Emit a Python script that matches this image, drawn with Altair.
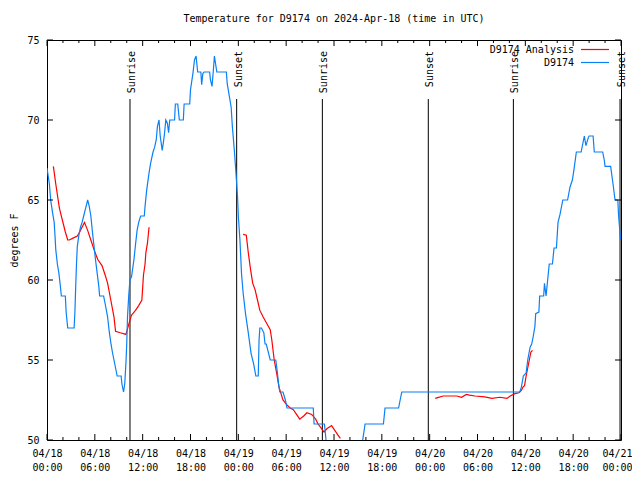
import altair as alt
import pandas as pd

# ---- data (hours since 2024-04-18 00:00 UTC, degrees F) ----
obs_hours = [0.0, 0.3, 0.46, 0.7, 0.9, 1.0, 1.1, 1.3, 1.5, 1.7, 1.8, 2.3, 2.4, 2.6, 3.4, 3.5, 3.6, 3.7, 3.8, 4.0,
             4.2, 4.4, 4.6, 4.8, 5.1, 5.3, 5.5, 5.7, 5.9, 6.1, 6.3, 6.5, 6.6, 7.1, 7.3, 7.6, 7.8, 8.0, 8.2, 8.4,
             8.6, 8.8, 9.3, 9.4, 9.6, 9.75, 9.9, 10.0, 10.1, 10.25, 10.4, 10.6, 10.9, 11.1, 11.3, 11.5, 11.75, 12.2, 12.3, 12.5,
             12.8, 13.0, 13.3, 13.5, 13.7, 13.85, 14.05, 14.2, 14.45, 14.6, 14.75, 14.9, 15.1, 15.25, 15.4, 16.0, 16.1, 16.4, 16.6, 17.1,
             17.2, 17.9, 18.0, 18.15, 18.3, 18.5, 18.7, 18.8, 18.9, 19.3, 19.4, 19.55, 19.7, 20.4, 20.5, 20.7, 20.85, 21.0, 21.15, 21.3,
             22.5, 22.6, 22.8, 23.1, 23.25, 23.5, 23.7, 23.9, 24.0, 24.2, 24.4, 24.6, 24.9, 25.25, 25.6, 25.9, 26.2, 26.5, 26.6, 26.7,
             26.9, 27.2, 27.35, 27.5, 27.7, 28.0, 28.7, 28.9, 29.05, 29.2, 29.6, 29.9, 30.1, 33.4, 33.5, 34.8, 35.0, 35.1, 39.5, 39.6,
             39.9, 42.2, 42.4, 44.1, 44.3, 44.5, 59.3, 59.5, 59.75, 60.1, 60.3, 60.6, 60.8, 61.0, 61.2, 61.3, 61.7, 61.8, 62.3, 62.4,
             62.6, 62.8, 63.0, 63.4, 63.6, 63.9, 64.1, 64.35, 64.7, 65.3, 65.6, 65.9, 66.1, 66.4, 67.0, 67.3, 67.4, 67.6, 67.9, 68.0,
             68.5, 68.65, 69.7, 69.9, 70.0, 70.7, 71.0, 71.25, 71.6, 71.7, 71.85, 71.95]
obs_temps = [67.0, 66.0, 65.0, 64.2, 63.6, 62.8, 61.9, 61.0, 60.4, 59.5, 59.0, 59.0, 58.0, 57.0, 57.0, 58.0, 59.6, 61.0, 62.1, 62.8,
             63.3, 63.6, 64.0, 64.4, 65.0, 64.6, 64.0, 63.0, 62.1, 61.2, 60.4, 59.6, 59.0, 59.0, 58.5, 57.7, 56.8, 56.1, 55.5, 55.0,
             54.5, 54.0, 54.0, 53.5, 53.0, 53.5, 54.8, 56.0, 57.7, 59.0, 60.0, 60.2, 61.25, 62.2, 63.1, 63.6, 64.0, 64.0, 64.6, 65.6,
             66.7, 67.3, 68.0, 68.3, 68.75, 69.6, 70.0, 69.0, 68.1, 68.6, 69.2, 70.0, 69.8, 69.2, 70.0, 70.0, 71.0, 71.0, 70.0, 70.0,
             71.0, 71.0, 71.9, 72.4, 72.9, 73.75, 74.0, 73.5, 73.0, 73.0, 72.2, 72.9, 73.0, 73.0, 72.5, 72.1, 73.0, 74.0, 73.5, 73.0,
             73.0, 72.3, 71.7, 70.8, 69.6, 68.1, 66.7, 65.2, 64.0, 62.5, 60.4, 59.2, 57.9, 56.7, 55.4, 54.8, 54.0, 54.0, 56.25, 57.0,
             57.0, 56.7, 56.0, 56.0, 55.6, 55.0, 55.0, 54.2, 53.5, 53.0, 53.0, 52.5, 52.0, 52.0, 51.0, 51.0, 50.0, 49.0, 49.0, 50.0,
             51.0, 51.0, 52.0, 52.0, 52.5, 53.0, 53.0, 53.3, 54.0, 54.2, 55.0, 55.8, 56.0, 56.5, 57.1, 57.9, 58.0, 59.0, 59.0, 59.8,
             59.0, 60.0, 61.0, 61.0, 62.0, 62.0, 63.6, 64.1, 65.0, 65.0, 65.8, 66.25, 66.9, 68.0, 68.0, 68.75, 69.0, 68.4, 68.9, 69.0,
             69.0, 68.0, 68.0, 67.5, 67.1, 67.1, 66.0, 65.0, 65.0, 64.0, 63.1, 62.5]

ana1_hours = [0.8, 1.1, 1.4, 1.55, 1.7, 2.05, 2.3, 2.6, 2.8, 3.2, 3.8, 4.1, 4.3, 4.7, 5.1, 5.5, 5.9, 6.2, 6.4, 6.9,
              7.3, 7.6, 8.0, 8.4, 8.6, 9.2, 9.9, 10.3, 10.6, 11.1, 11.5, 11.9, 12.1, 12.3, 12.4, 12.6, 12.8]
ana1_temps = [67.1, 66.0, 65.0, 64.5, 64.2, 63.5, 63.0, 62.5, 62.5, 62.6, 62.75, 63.0, 63.2, 63.6, 63.1, 62.5, 61.9, 61.5, 61.25, 60.9,
              60.3, 59.8, 58.75, 57.7, 56.8, 56.7, 56.6, 57.3, 57.8, 58.1, 58.4, 58.75, 60.3, 61.0, 61.7, 62.3, 63.3]
ana2_hours = [24.6, 25.0, 25.25, 25.55, 25.8, 26.1, 26.4, 26.7, 27.1, 27.55, 28.0, 28.2, 28.5, 28.8, 29.1, 29.6, 30.1, 30.5, 30.9, 31.3,
              31.7, 32.2, 32.6, 33.2, 33.7, 34.0, 34.3, 34.6, 34.75, 35.1, 35.7, 36.1, 36.5, 36.8]
ana2_temps = [62.85, 62.8, 61.7, 60.6, 59.8, 59.4, 58.75, 58.1, 57.7, 57.3, 56.9, 56.25, 55.0, 54.2, 53.3, 52.5, 52.2, 52.0, 51.9, 51.6,
              51.3, 51.5, 51.7, 51.6, 51.3, 51.0, 50.8, 50.6, 50.5, 50.7, 50.9, 50.6, 50.3, 50.1]
ana3_hours = [48.7, 49.0, 49.7, 51.4, 52.0, 52.6, 53.0, 53.7, 54.9, 55.8, 56.8, 57.7, 58.1, 58.7, 59.2, 59.5, 59.7, 59.9, 60.1, 60.3,
              60.5, 60.7, 60.9]
ana3_temps = [52.6, 52.65, 52.75, 52.75, 52.67, 52.85, 52.8, 52.75, 52.7, 52.6, 52.67, 52.6, 52.75, 52.9, 52.95, 53.1, 53.3, 53.4, 54.0, 54.5,
              55.0, 55.5, 55.6]

sun_hours = [10.41, 23.79, 34.54, 47.83, 58.5, 71.88]
sun_labels = ["Sunrise", "Sunset", "Sunrise", "Sunset", "Sunrise", "Sunset"]

series_names = ["D9174 Analysis", "D9174"]
series_colors = ["#ff0000", "#0a80f5"]
title_text = ["Temperature for D9174 on 2024-Apr-18 (time in UTC)"]

x_label_hours = [0, 6, 12, 18, 24, 30, 36, 42, 48, 54, 60, 66, 72]
x_minor_hours = [h for h in range(0, 73, 2) if h % 6 != 0]
y_tick_values = [50, 55, 60, 65, 70, 75]

FONT = "DejaVu Sans Mono"
W, H = 574, 400
LW = 1.2

# ---- tables ----
obs = pd.DataFrame({"h": obs_hours, "t": obs_temps})
ana = pd.concat([
    pd.DataFrame({"h": ana1_hours, "t": ana1_temps, "seg": 1}),
    pd.DataFrame({"h": ana2_hours, "t": ana2_temps, "seg": 2}),
    pd.DataFrame({"h": ana3_hours, "t": ana3_temps, "seg": 3}),
])
sun = pd.DataFrame({"h": sun_hours, "label": sun_labels})
xmaj = pd.DataFrame({"h": x_label_hours})
xmin = pd.DataFrame({"h": x_minor_hours})
yt = pd.DataFrame({"t": y_tick_values})
leg0 = pd.DataFrame({"name": [series_names[0]]})
leg1 = pd.DataFrame({"name": [series_names[1]]})
ttl = pd.DataFrame({"text": title_text})

label_expr = ("['04/' + (18 + floor(datum.value / 24)), "
              "((datum.value % 24) < 10 ? '0' : '') + (datum.value % 24) + ':00']")

X = alt.X("h:Q", scale=alt.Scale(domain=[0, 72], nice=False, zero=False),
          axis=alt.Axis(values=x_label_hours, labelExpr=label_expr, title=None,
                        labelLineHeight=14, labelPadding=8, labelBaseline="top",
                        labelFlush=False, labelOverlap=False,
                        labelOffset={"condition": {"test": "datum.value >= 72", "value": -4},
                                     "value": 0}))
Y = alt.Y("t:Q", scale=alt.Scale(domain=[50, 75], nice=False, zero=False),
          axis=alt.Axis(values=y_tick_values, title="degrees F", labelPadding=8,
                        titleAngle=270, titleX=-33, titleY=200, titleAlign="center",
                        titleBaseline="middle"))

sun_rules = alt.Chart(sun).mark_rule(color="black", strokeWidth=1).encode(
    x=X, y=alt.value(59), y2=alt.value(H))
sun_text = alt.Chart(sun).mark_text(angle=270, align="right", baseline="middle", dy=2,
                                    font=FONT, fontSize=10, color="black").encode(
    x=X, y=alt.value(11), text="label:N")

red = alt.Chart(ana).mark_line(color=series_colors[0], strokeWidth=LW, clip=True).encode(
    x=X, y=Y, detail="seg:N")
blue = alt.Chart(obs).mark_line(color=series_colors[1], strokeWidth=LW, clip=True).encode(
    x=X, y=Y)

tick_b_maj = alt.Chart(xmaj).mark_rule(color="black").encode(x=X, y=alt.value(H), y2=alt.value(H - 6))
tick_t_maj = alt.Chart(xmaj).mark_rule(color="black").encode(x=X, y=alt.value(0), y2=alt.value(6))
tick_b_min = alt.Chart(xmin).mark_rule(color="black").encode(x=X, y=alt.value(H), y2=alt.value(H - 3))
tick_t_min = alt.Chart(xmin).mark_rule(color="black").encode(x=X, y=alt.value(0), y2=alt.value(3))
tick_l = alt.Chart(yt).mark_rule(color="black").encode(y=Y, x=alt.value(0), x2=alt.value(6))
tick_r = alt.Chart(yt).mark_rule(color="black").encode(y=Y, x=alt.value(W), x2=alt.value(W - 6))

leg_t0 = alt.Chart(leg0).mark_text(align="right", baseline="middle", font=FONT,
                                   fontSize=10, color="black").encode(
    text="name:N", x=alt.value(527), y=alt.value(10))
leg_t1 = alt.Chart(leg1).mark_text(align="right", baseline="middle", font=FONT,
                                   fontSize=10, color="black").encode(
    text="name:N", x=alt.value(527), y=alt.value(22.5))
leg_l0 = alt.Chart(leg0).mark_rule(color=series_colors[0], strokeWidth=LW).encode(
    x=alt.value(534), x2=alt.value(562), y=alt.value(9.5))
leg_l1 = alt.Chart(leg1).mark_rule(color=series_colors[1], strokeWidth=LW).encode(
    x=alt.value(534), x2=alt.value(562), y=alt.value(22.5))

title = alt.Chart(ttl).mark_text(align="center", baseline="middle", font=FONT,
                                 fontSize=10, color="black").encode(
    text="text:N", x=alt.value(W / 2), y=alt.value(-21))

chart = alt.layer(
    sun_rules, sun_text, red, blue,
    tick_b_maj, tick_t_maj, tick_b_min, tick_t_min, tick_l, tick_r,
    leg_t0, leg_t1, leg_l0, leg_l1, title,
).properties(
    width=W, height=H,
    padding={"left": 39, "top": 32, "right": 11, "bottom": 32},
    autosize=alt.AutoSizeParams(type="none"),
).configure_view(
    stroke="black", strokeWidth=1
).configure_axis(
    domain=False, ticks=False, tickSize=0, grid=False,
    labelFont=FONT, labelFontSize=10, labelColor="black",
    titleFont=FONT, titleFontSize=10, titleFontWeight="normal", titleColor="black",
)

chart.save("out.html", embed_options={"renderer": "svg", "actions": False})
